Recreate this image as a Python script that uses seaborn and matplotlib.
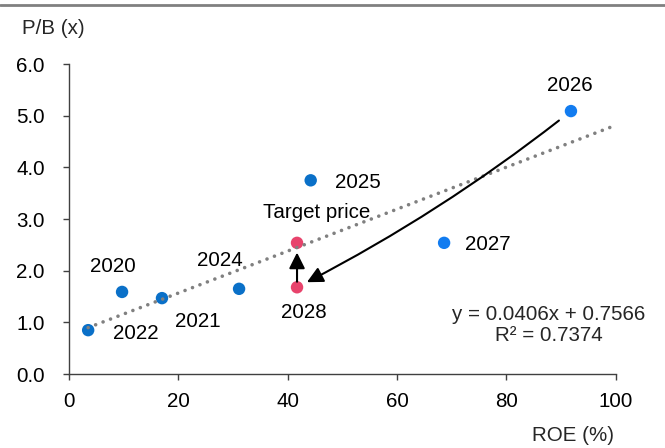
import matplotlib
matplotlib.use("Agg")
import matplotlib.pyplot as plt
from matplotlib.lines import Line2D
import numpy as np
import pandas as pd
import seaborn as sns

# ROE (%) vs P/B (x) by year
years = ["2020", "2021", "2022", "2024", "2025", "2026", "2027", "2028", "Target price"]
roe = [9.7, 17.0, 3.5, 31.1, 44.2, 91.8, 68.6, 41.7, 41.7]
pb = [1.59, 1.47, 0.85, 1.65, 3.75, 5.09, 2.54, 1.68, 2.54]
group = ["hist", "hist", "hist", "hist", "hist", "fcst", "fcst", "tp", "tp"]

slope, intercept, r2 = 0.0406, 0.7566, 0.7374
x_ticks = [0, 20, 40, 60, 80, 100]
y_ticks = [0.0, 1.0, 2.0, 3.0, 4.0, 5.0, 6.0]

# label offsets (pixels) from each point
label_offsets = {
    "2020": (-9, 25), "2021": (36, -23), "2022": (48, -3), "2024": (-19, 28),
    "2025": (47, -2), "2026": (-1, 26), "2027": (44, -2), "2028": (7, -25),
    "Target price": (20, 30),
}

df = pd.DataFrame({"year": years, "roe": roe, "pb": pb, "group": group})
palette = {"hist": "#0A70C8", "fcst": "#127CF0", "tp": "#E8436C"}

FS = 14.8

sns.set_style("white")
plt.rcParams["font.family"] = ["Liberation Sans", "DejaVu Sans"]
plt.rcParams["font.size"] = FS

fig = plt.figure(figsize=(6.65, 4.48), dpi=100)
ax = fig.add_axes([0.1038, 0.165, 0.8222, 0.692])

sns.scatterplot(data=df, x="roe", y="pb", hue="group", palette=palette,
                s=80, linewidth=0, legend=False, ax=ax, zorder=3)

# linear trendline
tx = np.array([min(roe), 100])
ax.plot(tx, slope * tx + intercept, color="#808080", lw=2.6,
        linestyle=(0, (0.01, 2.2)), dash_capstyle="round", zorder=4)

for yr, xv, yv in zip(years, roe, pb):
    dx, dy = label_offsets[yr]
    ax.annotate(yr, (xv, yv), xytext=(dx, dy), textcoords="offset pixels",
                ha="center", va="center", fontsize=FS, color="black")

# arrows: 2026 -> 2028 and 2028 -> target price
i26, i28, itp = years.index("2026"), years.index("2028"), years.index("Target price")
ax.annotate("", xy=(roe[i28], pb[i28]), xytext=(roe[i26], pb[i26]),
            textcoords="data",
            arrowprops=dict(arrowstyle="-|>", color="black", lw=1.5,
                            mutation_scale=24, shrinkA=11, shrinkB=8,
                            connectionstyle="arc3,rad=-0.05"), zorder=5)
ax.annotate("", xy=(roe[itp], pb[itp]), xytext=(roe[i28], pb[i28]),
            arrowprops=dict(arrowstyle="-|>", color="black", lw=1.5,
                            mutation_scale=24, shrinkA=4, shrinkB=7), zorder=5)

ax.text(0.877, 0.158, f"y = {slope}x + {intercept}\nR² = {r2}",
        transform=ax.transAxes, ha="center", va="center", fontsize=FS,
        linespacing=1.15)

ax.set_xlim(0, 100)
ax.set_ylim(0, 6)
ax.set_xticks(x_ticks)
ax.set_xticklabels([str(v) for v in x_ticks])
ax.set_yticks(y_ticks)
ax.set_yticklabels([f"{v:.1f}" for v in y_ticks])
ax.set_xlabel("")
ax.set_ylabel("")
for side in ["top", "right"]:
    ax.spines[side].set_visible(False)
for side in ["left", "bottom"]:
    ax.spines[side].set_color("#404040")
    ax.spines[side].set_linewidth(1.0)
ax.tick_params(axis="both", which="both", direction="out", length=4.5,
               width=1.0, color="#404040", labelsize=FS, labelcolor="black",
               bottom=True, left=True)
ax.tick_params(axis="y", pad=13)
ax.tick_params(axis="x", pad=8.5)

fig.text(22 / 665, 1 - 29 / 448, "P/B (x)", ha="left", va="center", fontsize=FS)
fig.text(614 / 665, 1 - 435 / 448, "ROE (%)", ha="right", va="center", fontsize=FS)

# grey rule across the top
fig.add_artist(Line2D([0, 1], [1 - 5.5 / 448, 1 - 5.5 / 448], color="#808080",
                      lw=2.0, transform=fig.transFigure))

fig.savefig("out.png", dpi=100)
